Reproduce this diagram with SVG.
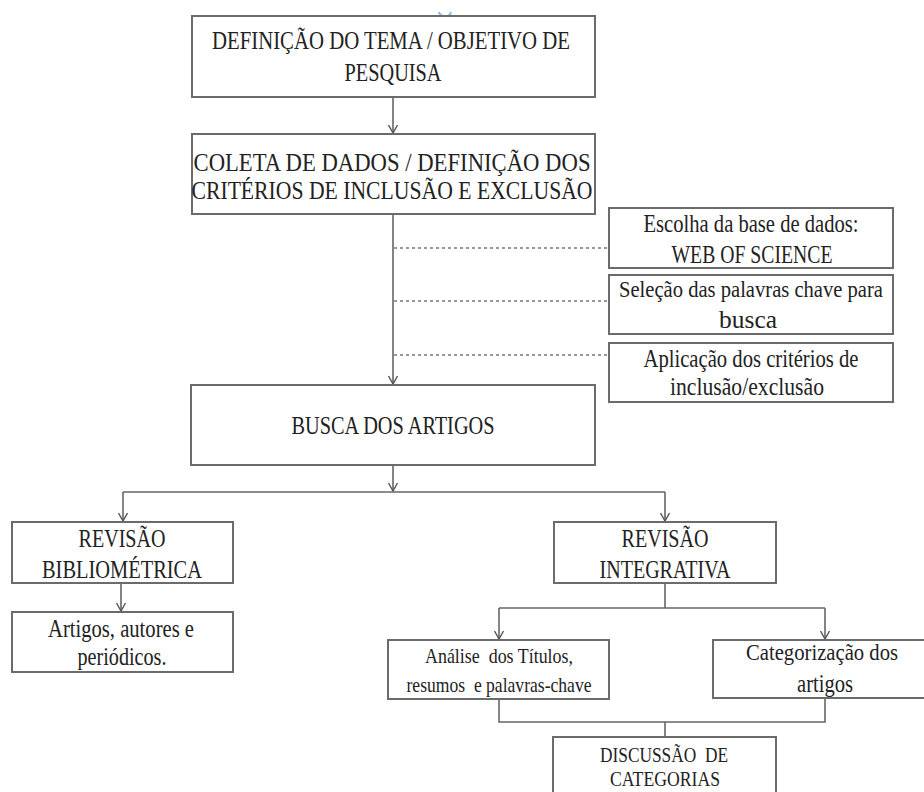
<svg xmlns="http://www.w3.org/2000/svg" width="924" height="792" viewBox="0 0 924 792">
<style>
.box{fill:#fff;stroke:#6b6b6b;stroke-width:2}
.t{font-family:"Liberation Serif","DejaVu Serif",serif;fill:#222;text-anchor:middle;font-size:25px}
.s{font-size:22px}
.m{font-size:23px}
.ln{fill:none;stroke:#666;stroke-width:1.6}
.dot{fill:none;stroke:#777;stroke-width:1.5;stroke-dasharray:3 3}
</style>
<defs>
<marker id="arr" viewBox="-10 -6 12 12" refX="0" refY="0" markerWidth="12" markerHeight="12" orient="auto" markerUnits="userSpaceOnUse">
<path d="M-8,-4.5 L0,0 L-8,4.5" fill="none" stroke="#555" stroke-width="1.4"/>
</marker>
</defs>
<rect width="924" height="792" fill="#fff"/>
<path d="M439,12 Q440,16 444,16 L447,16 Q450,16 451,12" fill="none" stroke="#8fb3d9" stroke-width="2"/>

<g id="connectors">
<line class="ln" x1="393" y1="97" x2="393" y2="133" marker-end="url(#arr)"/>
<line class="ln" x1="393" y1="214" x2="393" y2="384" marker-end="url(#arr)"/>
<line class="dot" x1="394" y1="248" x2="609" y2="248"/>
<line class="dot" x1="394" y1="301" x2="609" y2="301"/>
<line class="dot" x1="394" y1="355" x2="609" y2="355"/>
<line class="ln" x1="393" y1="465" x2="393" y2="491" marker-end="url(#arr)"/>
<line class="ln" x1="123" y1="492" x2="665" y2="492"/>
<line class="ln" x1="123" y1="492" x2="123" y2="521" marker-end="url(#arr)"/>
<line class="ln" x1="665" y1="492" x2="665" y2="521" marker-end="url(#arr)"/>
<line class="ln" x1="121" y1="583" x2="121" y2="611" marker-end="url(#arr)"/>
<polyline class="ln" points="665,583 665,608"/>
<line class="ln" x1="499" y1="608" x2="825" y2="608"/>
<line class="ln" x1="499" y1="608" x2="499" y2="639" marker-end="url(#arr)"/>
<line class="ln" x1="825" y1="608" x2="825" y2="639" marker-end="url(#arr)"/>
<polyline class="ln" points="499,699 499,722 825,722 825,690"/>
<line class="ln" x1="665" y1="722" x2="665" y2="737"/>
</g>

<g id="n1">
<rect class="box" x="192" y="16" width="403" height="81"/>
<text class="t" x="391" y="49" textLength="358" lengthAdjust="spacingAndGlyphs">DEFINIÇÃO DO TEMA / OBJETIVO DE</text>
<text class="t" x="393" y="81" textLength="97" lengthAdjust="spacingAndGlyphs">PESQUISA</text>
</g>
<g id="n2">
<rect class="box" x="192" y="134" width="403" height="80"/>
<text class="t" x="392" y="171" textLength="397" lengthAdjust="spacingAndGlyphs">COLETA DE DADOS / DEFINIÇÃO DOS</text>
<text class="t" x="392" y="199" textLength="401" lengthAdjust="spacingAndGlyphs">CRITÉRIOS DE INCLUSÃO E EXCLUSÃO</text>
</g>
<g id="nA">
<rect class="box" x="609" y="208" width="284" height="60"/>
<text class="t" x="751" y="232" textLength="215" lengthAdjust="spacingAndGlyphs">Escolha da base de dados:</text>
<text class="t" x="752" y="263" textLength="161" lengthAdjust="spacingAndGlyphs">WEB OF SCIENCE</text>
</g>
<g id="nB">
<rect class="box" x="609" y="275" width="284" height="59"/>
<text class="t m" x="751" y="297" textLength="264" lengthAdjust="spacingAndGlyphs">Seleção das palavras chave para</text>
<text class="t" x="748" y="328" textLength="58" lengthAdjust="spacingAndGlyphs">busca</text>
</g>
<g id="nC">
<rect class="box" x="609" y="343" width="284" height="59"/>
<text class="t" x="751" y="367" textLength="215" lengthAdjust="spacingAndGlyphs">Aplicação dos critérios de</text>
<text class="t" x="747" y="395" textLength="154" lengthAdjust="spacingAndGlyphs">inclusão/exclusão</text>
</g>
<g id="n3">
<rect class="box" x="191" y="385" width="404" height="80"/>
<text class="t" x="393" y="434" textLength="203" lengthAdjust="spacingAndGlyphs">BUSCA DOS ARTIGOS</text>
</g>
<g id="n4">
<rect class="box" x="12" y="522" width="221" height="61"/>
<text class="t" x="122" y="547" textLength="87" lengthAdjust="spacingAndGlyphs">REVISÃO</text>
<text class="t" x="122" y="578" textLength="160" lengthAdjust="spacingAndGlyphs">BIBLIOMÉTRICA</text>
</g>
<g id="n5">
<rect class="box" x="12" y="612" width="221" height="60"/>
<text class="t" x="121" y="637" textLength="146" lengthAdjust="spacingAndGlyphs">Artigos, autores e</text>
<text class="t" x="122" y="665" textLength="89" lengthAdjust="spacingAndGlyphs">periódicos.</text>
</g>
<g id="n6">
<rect class="box" x="554" y="522" width="222" height="61"/>
<text class="t" x="665" y="547" textLength="87" lengthAdjust="spacingAndGlyphs">REVISÃO</text>
<text class="t" x="665" y="578" textLength="131" lengthAdjust="spacingAndGlyphs">INTEGRATIVA</text>
</g>
<g id="n7">
<rect class="box" x="388" y="640" width="221" height="59"/>
<text class="t s" x="499" y="663" textLength="148" lengthAdjust="spacingAndGlyphs" xml:space="preserve">Análise  dos Títulos,</text>
<text class="t s" x="499" y="692" textLength="185" lengthAdjust="spacingAndGlyphs" xml:space="preserve">resumos  e palavras-chave</text>
</g>
<g id="n8">
<rect class="box" x="713" y="640" width="224" height="58"/>
<text class="t m" x="822" y="660" textLength="152" lengthAdjust="spacingAndGlyphs">Categorização dos</text>
<text class="t" x="825" y="692" textLength="56" lengthAdjust="spacingAndGlyphs">artigos</text>
</g>
<g id="n9">
<rect class="box" x="553" y="737" width="223" height="70"/>
<text class="t s" x="664" y="762" textLength="128" lengthAdjust="spacingAndGlyphs" xml:space="preserve">DISCUSSÃO  DE</text>
<text class="t s" x="665" y="786" textLength="110" lengthAdjust="spacingAndGlyphs">CATEGORIAS</text>
</g>
</svg>
